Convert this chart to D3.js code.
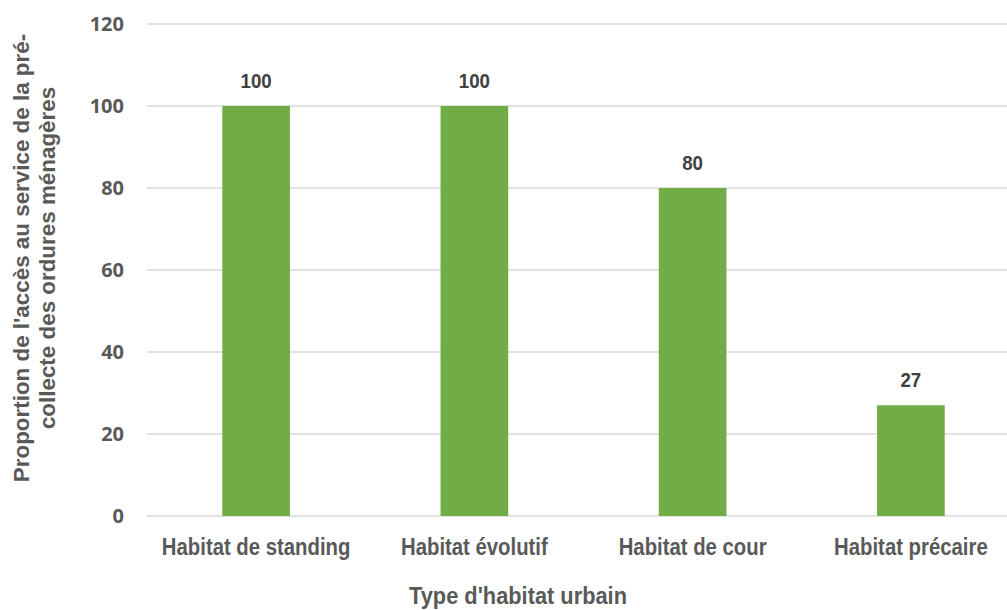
<!DOCTYPE html>
<html><head><meta charset="utf-8">
<script src="https://cdn.jsdelivr.net/npm/d3@7"></script>
<style>
html,body{margin:0;padding:0;background:#fff;}
svg{display:block;}
</style></head>
<body>
<svg id="c" width="1007" height="610"></svg>
<script>
const categories = ["Habitat de standing", "Habitat évolutif", "Habitat de cour", "Habitat précaire"];
const values = [100, 100, 80, 27];
const yTicks = [0, 20, 40, 60, 80, 100, 120];
const yTitle = ["Proportion de l'accès au service de la pré-", "collecte des ordures ménagères"];
const xTitle = "Type d'habitat urbain";

const svg = d3.select("#c");
const sans = "'Liberation Sans',Arial,sans-serif";
const mL = 147, mR = 1020, mT = 24, mB = 516;

const x = d3.scaleBand().domain(categories).range([mL, mR]).paddingInner(0.69).paddingOuter(0.345);
const y = d3.scaleLinear().domain([0, 120]).range([mB, mT]);

// gridlines
svg.append("g").selectAll("line").data(yTicks).join("line")
  .attr("x1", mL).attr("x2", 1007)
  .attr("y1", d => y(d)).attr("y2", d => y(d))
  .attr("stroke", "#d9d9d9").attr("stroke-width", 1.5);

// y axis labels
const yAxis = svg.append("g").attr("transform", `translate(${mL},0)`)
  .call(d3.axisLeft(y).tickValues(yTicks).tickSize(0).tickPadding(23));
yAxis.select(".domain").remove();
yAxis.selectAll("text").attr("font-family", "'Open Sans',sans-serif").attr("font-weight", "bold")
  .attr("font-size", 20).attr("fill", "#595959");

// bars
svg.append("g").selectAll("rect").data(values).join("rect")
  .attr("x", (d, i) => x(categories[i]))
  .attr("width", x.bandwidth())
  .attr("y", d => y(d))
  .attr("height", d => y(0) - y(d))
  .attr("fill", "#70ad47");

// data labels
svg.append("g").selectAll("text").data(values).join("text")
  .attr("transform", (d, i) => `translate(${x(categories[i]) + x.bandwidth() / 2},${y(d) - 18}) scale(0.89,1)`)
  .attr("text-anchor", "middle")
  .attr("font-family", sans).attr("font-weight", "bold").attr("font-size", 21)
  .attr("fill", "#404040")
  .text(d => d);

// x axis labels
const xAxis = svg.append("g").attr("transform", `translate(0,${mB})`)
  .call(d3.axisBottom(x).tickSize(0));
xAxis.select(".domain").remove();
xAxis.selectAll("text").attr("dy", null).attr("y", 39)
  .attr("transform", "scale(0.83,1)")
  .attr("font-family", sans).attr("font-weight", "bold")
  .attr("font-size", 24.5).attr("fill", "#595959");

// x title
svg.append("text")
  .attr("transform", "translate(518,604) scale(0.89,1)")
  .attr("text-anchor", "middle")
  .attr("font-family", sans).attr("font-weight", "bold").attr("font-size", 24.5)
  .attr("fill", "#595959").text(xTitle);

// y title
const yt = svg.append("text")
  .attr("transform", `translate(29,258) rotate(-90)`)
  .attr("text-anchor", "middle")
  .attr("font-family", sans).attr("font-weight", "bold").attr("font-size", 22.4)
  .attr("fill", "#595959");
yt.selectAll("tspan").data(yTitle).join("tspan")
  .attr("x", 0).attr("dy", (d, i) => i === 0 ? 0 : 26)
  .text(d => d);
</script>
</body></html>
